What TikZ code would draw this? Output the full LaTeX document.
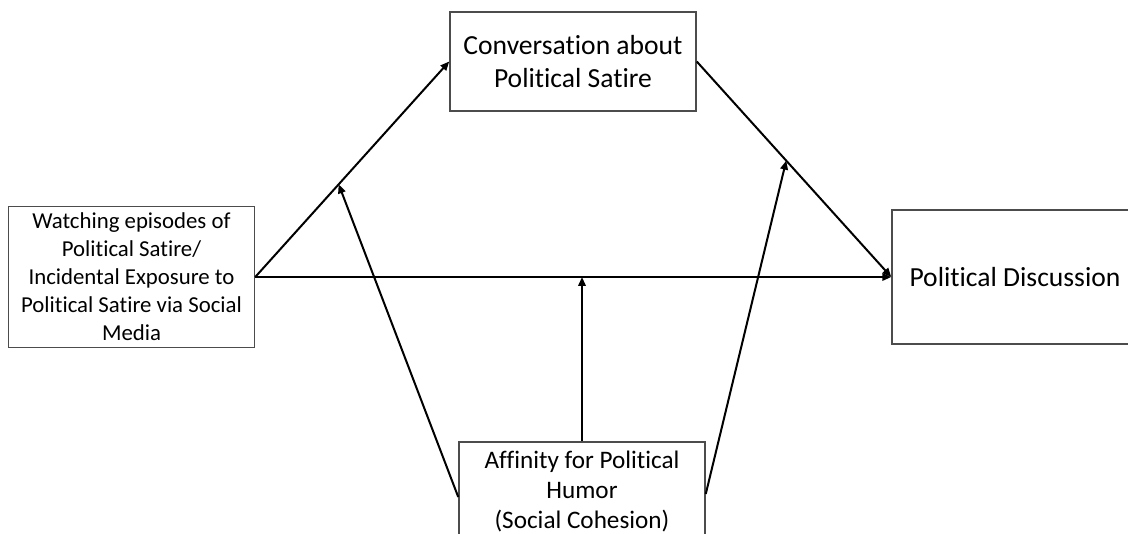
\documentclass[tikz,border=0pt]{standalone}
\usepackage{fontspec}
\setmainfont{Carlito}[Ligatures=NoCommon]
\usetikzlibrary{arrows.meta, calc}

\begin{document}
\begin{tikzpicture}[x=1pt, y=-1pt,
    box/.style={rectangle, draw=black!70, line width=1.5pt, fill=white,
                minimum width=246pt, align=center, inner sep=2pt},
    link/.style={-{Triangle[length=9pt, width=7.5pt]}, line width=2pt}]
    \clip (0, 0) rectangle (1128, 534);

    % Boxes
    \node[box, minimum height=141pt, font=\fontsize{22.8}{28}\selectfont] (watch) at (131.5, 277)
        {Watching episodes of\\Political Satire/\\Incidental Exposure to\\Political Satire via Social\\Media};
    \node[box, minimum height=99pt, font=\fontsize{27.6}{33}\selectfont] (conv) at (573, 61.5)
        {Conversation about\\Political Satire};
    \node[box, minimum height=134pt, font=\fontsize{27.6}{33}\selectfont] (disc) at (1015, 277)
        {Political Discussion};
    \node[box, minimum height=98pt, font=\fontsize{25.2}{30}\selectfont] (humor) at (582, 491)
        {Affinity for Political\\Humor\\(Social Cohesion)};

    % Paths
    \draw[link] (watch.east) -- (conv.west);
    \draw[link] (watch.east) -- (disc.west);
    \draw[link] (conv.east) -- (disc.west);

    % Moderation
    \coordinate (modL) at ($(watch.east)!0.43!(conv.west)$);
    \coordinate (modM) at (humor.north |- watch.east);
    \coordinate (modR) at ($(conv.east)!0.46!(disc.west)$);
    \draw[link] ([yshift=-6pt]humor.west) -- (modL);
    \draw[link] (humor.north) -- (modM);
    \draw[link] ([yshift=-3pt]humor.east) -- (modR);
\end{tikzpicture}
\end{document}
